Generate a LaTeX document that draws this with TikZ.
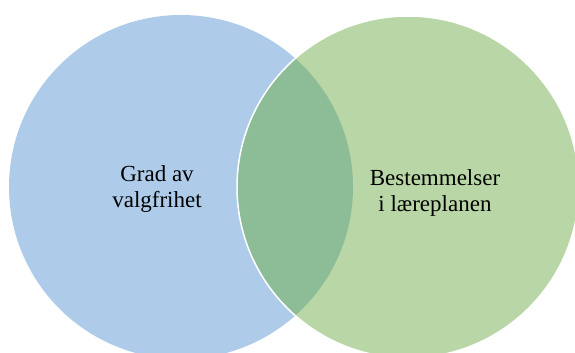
\documentclass[tikz,border=0pt]{standalone}
\usepackage{fontspec}
\setmainfont{Liberation Serif}
\definecolor{vblue}{RGB}{174,204,234}
\definecolor{vgreen}{RGB}{184,214,166}
\definecolor{vboth}{RGB}{141,189,151}
\begin{document}
\begin{tikzpicture}[x=1pt,y=-1pt,
  lbl/.style={align=center,font=\fontsize{23}{26}\selectfont,inner sep=0pt}]
\useasboundingbox (0,0) rectangle (575,353);
\clip (0,0) rectangle (575,353);
\coordinate (cl) at (181,187);
\coordinate (cr) at (408,187);
\fill[vblue] (cl) circle[radius=172];
\fill[vgreen] (cr) circle[radius=171];
\begin{scope}
  \clip (cr) circle[radius=171];
  \fill[vboth] (cl) circle[radius=172];
\end{scope}
\draw[white,line width=1.5pt] (cr) circle[radius=171];
\node[lbl] (a) at (157,189) {Grad av\\valgfrihet};
\node[lbl] (b) at (435,193) {Bestemmelser\\i læreplanen};
\end{tikzpicture}
\end{document}
